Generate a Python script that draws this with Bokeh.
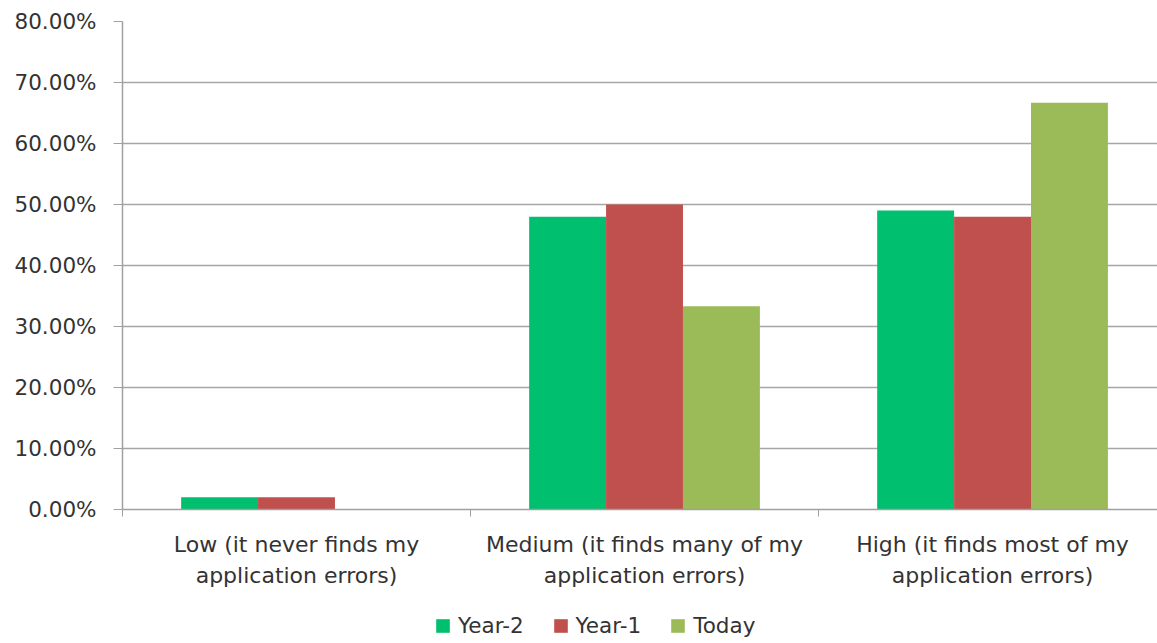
from bokeh.plotting import figure
from bokeh.layouts import column
from bokeh.models import (Range1d, FixedTicker, NumeralTickFormatter, Legend,
                          LegendItem, ColumnDataSource)
from bokeh.embed import file_html
from bokeh.resources import INLINE

categories = [
    "Low (it never finds my\napplication errors)",
    "Medium (it finds many of my\napplication errors)",
    "High (it finds most of my\napplication errors)",
]
series = ["Year-2", "Year-1", "Today"]
year_minus_2 = [0.02, 0.48, 0.49]
year_minus_1 = [0.02, 0.50, 0.48]
today = [0.0, 0.3333, 0.6667]
colors = ["#00BF6F", "#C0504D", "#9BBB59"]

values = [year_minus_2, year_minus_1, today]

bar_w = 0.221
n = len(categories)
FONT = "DejaVu Sans"

p = figure(frame_width=1035, frame_height=488, output_backend="svg",
           toolbar_location=None,
           x_range=Range1d(0, 2.974), y_range=Range1d(0, 0.8),
           min_border_left=122, min_border_right=0, min_border_top=21,
           min_border_bottom=0)
p.outline_line_color = None
p.background_fill_color = "white"
p.border_fill_color = "white"

sources = []
for i, (name, vals, col) in enumerate(zip(series, values, colors)):
    xs = [k + 0.5 + (i - 1) * bar_w for k in range(n)]
    src = ColumnDataSource(dict(x=xs, top=vals))
    sources.append(src)
    p.vbar(x="x", top="top", width=bar_w, bottom=0, source=src,
           fill_color=col, line_color=None)

# y axis
p.yaxis.ticker = FixedTicker(ticks=[i / 10 for i in range(9)])
p.yaxis.formatter = NumeralTickFormatter(format="0.00%")
p.yaxis.axis_line_color = "#A0A0A0"
p.yaxis.axis_line_width = 1.5
p.yaxis.major_tick_line_color = "#A0A0A0"
p.yaxis.major_tick_out = 9
p.yaxis.major_tick_in = 0
p.yaxis.minor_tick_line_color = None
p.yaxis.major_label_text_font = FONT
p.yaxis.major_label_text_font_size = "21.5px"
p.yaxis.major_label_text_color = "#333333"
p.yaxis.major_label_standoff = 17

# x axis: labels at category centres, tick marks at category boundaries
p.xaxis.ticker = FixedTicker(ticks=[k + 0.5 for k in range(n)],
                             minor_ticks=[k for k in range(n + 1)])
p.xaxis.major_label_overrides = {k + 0.5: c for k, c in enumerate(categories)}
p.xaxis.axis_line_color = "#A0A0A0"
p.xaxis.axis_line_width = 1.5
p.xaxis.major_tick_line_color = None
p.xaxis.minor_tick_line_color = "#A0A0A0"
p.xaxis.minor_tick_out = 7
p.xaxis.minor_tick_in = 0
p.xaxis.major_label_text_font = FONT
p.xaxis.major_label_text_font_size = "22px"
p.xaxis.major_label_text_line_height = 1.25
p.xaxis.major_label_text_color = "#333333"
p.xaxis.major_label_standoff = 15

p.xgrid.grid_line_color = None
p.ygrid.grid_line_color = "#A6A6A6"
p.ygrid.grid_line_width = 1.5

# legend strip under the chart; its y range sits above the data so the
# series bars here only supply the legend swatches
leg = figure(width=1157, height=48, output_backend="svg", toolbar_location=None,
             x_range=Range1d(0, 1), y_range=Range1d(2, 3),
             x_axis_type=None, y_axis_type=None,
             min_border_left=0, min_border_right=0, min_border_top=0,
             min_border_bottom=0)
leg.outline_line_color = None
leg.grid.visible = False
leg.border_fill_color = "white"

items = []
for name, col, src in zip(series, colors, sources):
    r = leg.vbar(x="x", top="top", width=bar_w, bottom=0, source=src,
                 fill_color=col, line_color=None)
    items.append(LegendItem(label=name, renderers=[r]))

legend = Legend(items=items, orientation="horizontal", location=(312, 0),
                border_line_color=None, background_fill_alpha=0,
                label_text_font=FONT, label_text_font_size="21.5px",
                label_text_color="#333333", glyph_width=17, glyph_height=17,
                spacing=28, label_standoff=7, padding=0, margin=0)
leg.add_layout(legend, "center")

layout = column(p, leg, spacing=0)

open("out.html", "w").write(file_html(layout, INLINE))
